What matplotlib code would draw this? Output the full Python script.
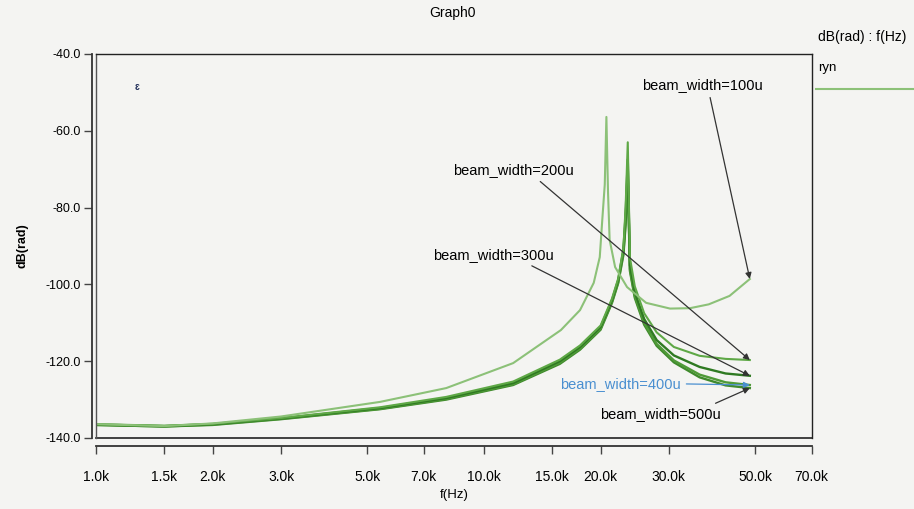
"""Graph0 - dB(rad) vs f(Hz) for several beam widths"""
import matplotlib
matplotlib.use("Agg")
import matplotlib.pyplot as plt
from matplotlib.lines import Line2D
from matplotlib.ticker import FixedLocator, NullLocator

plt.rcParams['font.family'] = ['Liberation Sans', 'DejaVu Sans']

# --- data (freq in Hz, response in dB) ---
f_100u = [1.0e3, 1.5e3, 2.0e3, 3.0e3, 5.4e3, 8.0e3, 11.9e3, 15.8e3, 17.7e3, 19.2e3,
          19.9e3, 20.2e3, 20.5e3, 20.7e3, 20.9e3, 21.1e3, 21.8e3, 23.4e3, 26.2e3,
          30.2e3, 34.0e3, 38.0e3, 43.0e3, 48.5e3]
db_100u = [-136.4, -136.9, -136.2, -134.4, -130.6, -127.0, -120.5, -111.9, -106.7, -99.6,
           -92.9, -83.2, -74.0, -56.4, -76.0, -88.4, -95.5, -100.7, -104.8,
           -106.3, -106.2, -105.2, -103.0, -98.6]

f_main = [1.0e3, 1.5e3, 2.0e3, 3.0e3, 5.4e3, 8.0e3, 11.9e3, 15.7e3, 17.7e3, 20.0e3,
          21.4e3, 22.2e3, 22.9e3, 23.2e3, 23.5e3, 23.8e3, 24.5e3, 25.9e3, 27.9e3,
          30.9e3, 36.0e3, 42.0e3, 48.5e3]
db_200u = [-136.4, -136.8, -136.3, -134.8, -132.0, -129.3, -125.3, -119.6, -115.9, -110.7,
           -103.7, -98.5, -90.5, -80.0, -63.0, -93.0, -100.5, -107.5, -112.5,
           -116.3, -118.6, -119.4, -119.7]
db_300u = [-136.5, -136.9, -136.4, -134.9, -132.2, -129.6, -125.7, -120.0, -116.3, -111.1,
           -104.1, -98.9, -91.0, -82.0, -67.5, -95.0, -102.0, -109.0, -114.5,
           -118.5, -121.5, -123.2, -123.8]
db_400u = [-136.6, -137.0, -136.5, -135.0, -132.4, -129.8, -126.0, -120.4, -116.7, -111.5,
           -104.5, -99.4, -91.8, -83.5, -69.5, -96.0, -103.0, -110.0, -115.5,
           -119.8, -123.5, -125.5, -126.2]
db_500u = [-136.6, -137.0, -136.6, -135.1, -132.5, -130.0, -126.2, -120.7, -117.0, -111.8,
           -104.8, -99.7, -92.3, -84.5, -71.5, -96.5, -103.5, -110.5, -116.0,
           -120.3, -124.2, -126.3, -127.0]

xtick_vals = [1.0e3, 1.5e3, 2.0e3, 3.0e3, 5.0e3, 7.0e3, 10.0e3, 15.0e3, 20.0e3,
              30.0e3, 50.0e3, 70.0e3]
xtick_labels = ['1.0k', '1.5k', '2.0k', '3.0k', '5.0k', '7.0k', '10.0k', '15.0k',
                '20.0k', '30.0k', '50.0k', '70.0k']
ytick_vals = [-140, -120, -100, -80, -60, -40]

BG = '#f4f4f2'
fig = plt.figure(figsize=(9.14, 5.09), dpi=100, facecolor=BG)
ax = fig.add_axes([0.105, 0.1395, 0.783, 0.7545], facecolor=BG)

ax.plot(f_main, db_500u, color='#3f8a2c', lw=1.7)
ax.plot(f_main, db_400u, color='#4f9a38', lw=1.7)
ax.plot(f_main, db_300u, color='#2f7a22', lw=1.7)
ax.plot(f_main, db_200u, color='#5ea846', lw=1.5)
ax.plot(f_100u, db_100u, color='#8cc178', lw=1.5)

ax.set_xscale('log')
ax.set_xlim(1.0e3, 70.0e3)
ax.set_ylim(-140, -40)
ax.xaxis.set_major_locator(FixedLocator(xtick_vals))
ax.xaxis.set_minor_locator(NullLocator())
ax.set_xticklabels(xtick_labels)
ax.set_yticks(ytick_vals)
ax.set_yticklabels([f'{v:.1f}' for v in ytick_vals])
ax.tick_params(axis='both', color='#444444', length=6, width=1.0)
ax.tick_params(axis='x', labelsize=10, pad=11)
ax.tick_params(axis='y', labelsize=9, pad=2)

for side in ['top', 'right']:
    ax.spines[side].set_color('#222222')
    ax.spines[side].set_linewidth(1.0)
ax.spines['bottom'].set_position(('outward', 6))
ax.spines['left'].set_position(('outward', 3))
for side in ['bottom', 'left']:
    ax.spines[side].set_color('#333333')
    ax.spines[side].set_linewidth(1.3)
# inner line of the double axis frame
ax.axhline(-140, color='#333333', lw=1.3, clip_on=False)
ax.axvline(1.0e3, color='#555555', lw=1.0, clip_on=False)

ax.set_xlabel('f(Hz)', fontsize=9.5, labelpad=4)
ax.set_ylabel('dB(rad)', fontsize=9, fontweight='bold', labelpad=12)
fig.text(0.495, 0.975, 'Graph0', fontsize=10, ha='center', va='center')

# small marker glyph near top left
ax.text(1.28e3, -48.5, 'ɛ', fontsize=7, color='#22305a', fontweight='bold',
        ha='center', va='center')

# annotations
fs = 10.5
arrow = dict(arrowstyle='-|>', color='#333333', lw=0.9, mutation_scale=9,
             shrinkA=2, shrinkB=0)
ax.annotate('beam_width=100u', xy=(f_100u[-1], db_100u[-1]), xytext=(36.7e3, -48.1),
            fontsize=fs, ha='center', va='center',
            arrowprops=dict(arrow, relpos=(0.55, 0.0)))
ax.annotate('beam_width=200u', xy=(f_main[-1], db_200u[-1]), xytext=(11.9e3, -70.2),
            fontsize=fs, ha='center', va='center',
            arrowprops=dict(arrow, relpos=(0.68, 0.0)))
ax.annotate('beam_width=300u', xy=(f_main[-1], db_300u[-1]), xytext=(10.6e3, -92.3),
            fontsize=fs, ha='center', va='center',
            arrowprops=dict(arrow, relpos=(0.75, 0.0)))
ax.annotate('beam_width=400u', xy=(f_main[-1], db_400u[-1]), xytext=(22.5e3, -125.9),
            fontsize=fs, ha='center', va='center', color='#4a8fd0',
            arrowprops=dict(arrow, color='#4a8fd0', relpos=(1.0, 0.5)))
ax.annotate('beam_width=500u', xy=(f_main[-1], db_500u[-1]), xytext=(28.6e3, -133.8),
            fontsize=fs, ha='center', va='center',
            arrowprops=dict(arrow, relpos=(0.88, 1.0)))

# legend block at right
fig.text(0.895, 0.927, 'dB(rad) : f(Hz)', fontsize=10, ha='left', va='center')
fig.text(0.895, 0.866, 'ryn', fontsize=9.5, ha='left', va='center')
fig.add_artist(Line2D([0.893, 1.0], [0.825, 0.825], transform=fig.transFigure,
                      color='#8cc178', lw=1.5))

fig.savefig('out.png', dpi=100, facecolor=BG)
